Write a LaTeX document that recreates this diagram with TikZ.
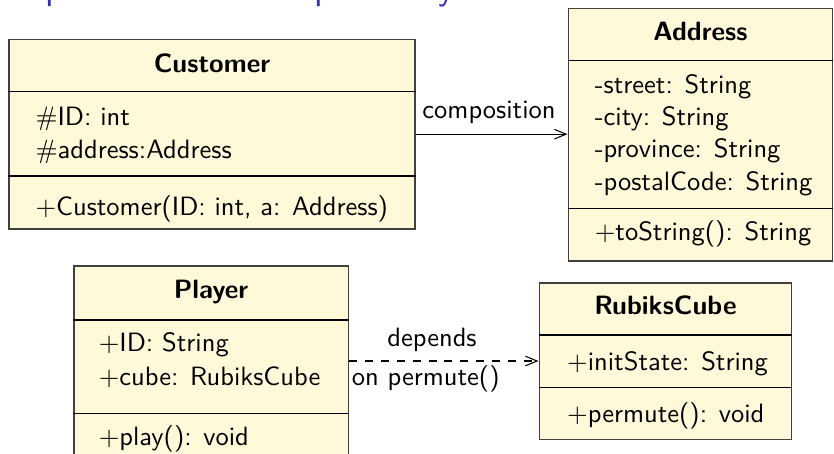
\documentclass[tikz,border=0pt]{standalone}
\usetikzlibrary{arrows.meta,fit}
\definecolor{umlfill}{RGB}{255,249,217}
\definecolor{beamerblue}{rgb}{0.2,0.2,0.7}
\tikzset{
  classbox/.style={draw=black!75, line width=0.6pt, fill=umlfill, inner sep=0pt},
  sepline/.style={line width=0.45pt, draw=black},
  cname/.style={font=\sffamily\bfseries, inner sep=0pt, anchor=base},
  member/.style={font=\sffamily, inner sep=0pt, anchor=base west},
  lbl/.style={font=\sffamily, inner sep=0pt, anchor=base},
  umlarrow/.style={-{Straight Barb[length=4.4pt,width=3.6pt]}, line width=0.4pt},
}
\begin{document}
\begin{tikzpicture}[x=0.37736pt,y=-0.37736pt]
\useasboundingbox (0,0) rectangle (834,453);
\clip (0,0) rectangle (834,453);
% cut-off frame title
\node[font=\sffamily\fontsize{14}{17}\selectfont, text=beamerblue, inner sep=0pt, anchor=base west] (title) at (-25.5,-0.5) {Composition versus dependency};

% boxes
\node[classbox, fit={(9,39.3) (415,229)}] (cust) {};
\node[classbox, fit={(568.3,8.3) (832.6,260.7)}] (addr) {};
\node[classbox, fit={(74,266) (348.3,475)}] (play) {};
\node[classbox, fit={(539.3,282.7) (791.7,439.3)}] (rub) {};

% separators
\draw[sepline] (cust.west |- 0,91.7) -- (cust.east |- 0,91.7);
\draw[sepline] (cust.west |- 0,176) -- (cust.east |- 0,176);
\draw[sepline] (addr.west |- 0,60.7) -- (addr.east |- 0,60.7);
\draw[sepline] (addr.west |- 0,208.3) -- (addr.east |- 0,208.3);
\draw[sepline] (play.west |- 0,320) -- (play.east |- 0,320);
\draw[sepline] (play.west |- 0,413.3) -- (play.east |- 0,413.3);
\draw[sepline] (rub.west |- 0,335) -- (rub.east |- 0,335);
\draw[sepline] (rub.west |- 0,387.3) -- (rub.east |- 0,387.3);

% Customer
\node[cname] (custn) at (212,72.7) {Customer};
\node[member] (custa1) at (35,125) {$\#$ID: int};
\node[member] (custa2) at (35,158) {$\#$address:Address};
\node[member] (custm1) at (35,215) {$+$Customer(ID: int, a: Address)};

% Address
\node[cname] (addrn) at (700.5,40.7) {Address};
\node[member] (addra1) at (594.3,93.3) {-street: String};
\node[member] (addra2) at (594.3,125.5) {-city: String};
\node[member] (addra3) at (594.3,157.5) {-province: String};
\node[member] (addra4) at (594.3,190) {-postalCode: String};
\node[member] (addrm1) at (594.3,240) {$+$toString(): String};

% Player
\node[cname] (playn) at (211,298.3) {Player};
\node[member] (playa1) at (98.3,351.7) {$+$ID: String};
\node[member] (playa2) at (98.3,385) {$+$cube: RubiksCube};
\node[member] (playm1) at (98.3,445) {$+$play(): void};

% RubiksCube
\node[cname] (rubn) at (665.5,314.3) {RubiksCube};
\node[member] (ruba1) at (566.7,370) {$+$initState: String};
\node[member] (rubm1) at (566.7,422) {$+$permute(): void};

% connectors
\draw[umlarrow] (cust.east) -- (cust.east -| addr.west);
\node[lbl] (complbl) at (489,118) {composition};
\draw[umlarrow, dashed] (play.east |- rub.west) -- (rub.west);
\node[lbl] (deplbl1) at (432,346) {depends};
\node[lbl] (deplbl2) at (425.7,385.5) {on permute()};
\end{tikzpicture}
\end{document}
